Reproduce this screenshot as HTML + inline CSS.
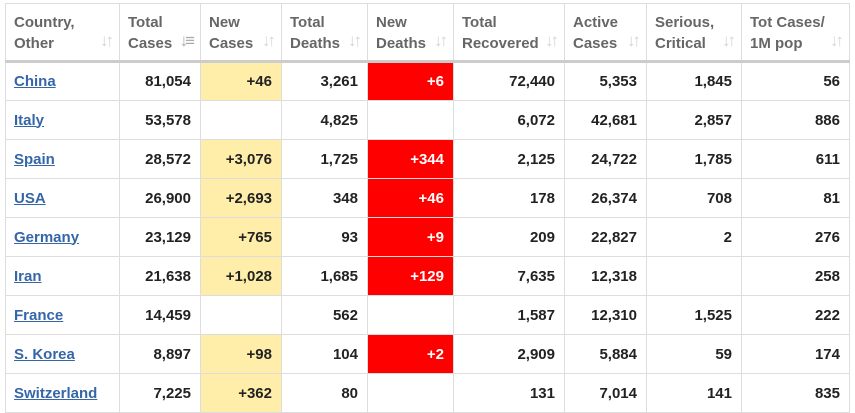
<!DOCTYPE html><html><head><style>
body{margin:0;width:855px;height:413px;overflow:hidden;background:#fff;font-family:"Liberation Sans",Arial,sans-serif}
table{position:absolute;left:5px;top:3px;border-collapse:collapse;table-layout:fixed}
td,th{border:1px solid #ddd;font-size:15px;font-weight:bold;padding:0 9px 0 8px;box-sizing:border-box}
th{height:58px;color:#666;text-align:left;vertical-align:middle;line-height:21px;position:relative;border-bottom:3px solid #ccc;padding-top:1px}
th span{position:absolute;right:8px;bottom:9px;color:#d5d5d5;font-size:17px;letter-spacing:-3px}
td{height:39px;text-align:right;color:#222}
td:first-child{text-align:left}
a{color:#3566a8;text-decoration:underline}
.y{background:#ffeeaa}.r{background:#f00;color:#fff}
</style></head><body>
<table>
<colgroup><col style="width:114px"><col style="width:81px"><col style="width:81px"><col style="width:86px"><col style="width:86px"><col style="width:111px"><col style="width:82px"><col style="width:95px"><col style="width:108px"></colgroup>
<tr><th>Country,<br>Other<span>↓↑</span></th><th>Total<br>Cases<span style="color:#aaa">↓≡</span></th><th>New<br>Cases<span>↓↑</span></th><th>Total<br>Deaths<span>↓↑</span></th><th>New<br>Deaths<span>↓↑</span></th><th>Total<br>Recovered<span>↓↑</span></th><th>Active<br>Cases<span>↓↑</span></th><th>Serious,<br>Critical<span>↓↑</span></th><th>Tot Cases/<br>1M pop<span>↓↑</span></th></tr>
<tr><td><a>China</a></td><td>81,054</td><td class="y">+46</td><td>3,261</td><td class="r">+6</td><td>72,440</td><td>5,353</td><td>1,845</td><td>56</td></tr>
<tr><td><a>Italy</a></td><td>53,578</td><td></td><td>4,825</td><td></td><td>6,072</td><td>42,681</td><td>2,857</td><td>886</td></tr>
<tr><td><a>Spain</a></td><td>28,572</td><td class="y">+3,076</td><td>1,725</td><td class="r">+344</td><td>2,125</td><td>24,722</td><td>1,785</td><td>611</td></tr>
<tr><td><a>USA</a></td><td>26,900</td><td class="y">+2,693</td><td>348</td><td class="r">+46</td><td>178</td><td>26,374</td><td>708</td><td>81</td></tr>
<tr><td><a>Germany</a></td><td>23,129</td><td class="y">+765</td><td>93</td><td class="r">+9</td><td>209</td><td>22,827</td><td>2</td><td>276</td></tr>
<tr><td><a>Iran</a></td><td>21,638</td><td class="y">+1,028</td><td>1,685</td><td class="r">+129</td><td>7,635</td><td>12,318</td><td></td><td>258</td></tr>
<tr><td><a>France</a></td><td>14,459</td><td></td><td>562</td><td></td><td>1,587</td><td>12,310</td><td>1,525</td><td>222</td></tr>
<tr><td><a>S. Korea</a></td><td>8,897</td><td class="y">+98</td><td>104</td><td class="r">+2</td><td>2,909</td><td>5,884</td><td>59</td><td>174</td></tr>
<tr><td><a>Switzerland</a></td><td>7,225</td><td class="y">+362</td><td>80</td><td></td><td>131</td><td>7,014</td><td>141</td><td>835</td></tr>
</table></body></html>
